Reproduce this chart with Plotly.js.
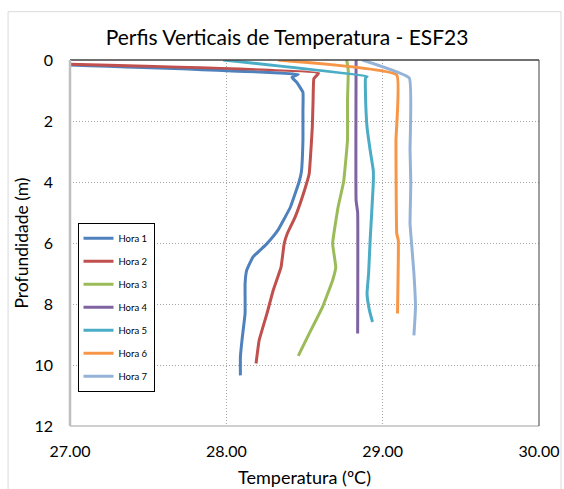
<!DOCTYPE html>
<html>
<head>
<meta charset="utf-8">
<script src="https://cdn.plot.ly/plotly-3.0.1.min.js"></script>
<style>html,body{margin:0;padding:0;background:#fff;}#chart{width:564px;height:489px;}</style>
</head>
<body>
<div id="chart"></div>
<script>
// Series names
const seriesNames = ["Hora 1", "Hora 2", "Hora 3", "Hora 4", "Hora 5", "Hora 6", "Hora 7"];

// Depth (m) and temperature (ºC) per series
const depth1 = [0, 0.47, 0.57, 0.73, 1.06, 1.65, 2.63, 3.67, 4.0, 4.82, 5.58, 6.02, 6.46, 6.9, 7.33, 8.31, 9.19, 9.74, 10.34];
const temp1  = [26.0, 28.46, 28.42, 28.45, 28.49, 28.49, 28.49, 28.48, 28.465, 28.41, 28.33, 28.26, 28.17, 28.13, 28.12, 28.12, 28.10, 28.09, 28.09];

const depth2 = [0, 0.43, 0.61, 1.32, 2.2, 2.63, 3.73, 4.27, 5.15, 5.69, 6.02, 6.79, 7.55, 8.31, 9.19, 9.95];
const temp2  = [25.8, 28.59, 28.56, 28.555, 28.55, 28.545, 28.53, 28.50, 28.44, 28.39, 28.37, 28.35, 28.30, 28.26, 28.21, 28.19];

const depth3 = [0, 0.34, 1.32, 2.63, 4.0, 4.82, 6.02, 6.79, 7.22, 8.1, 8.97, 9.7];
const temp3  = [28.77, 28.78, 28.775, 28.775, 28.75, 28.715, 28.68, 28.70, 28.68, 28.615, 28.53, 28.46];

const depth4 = [0, 4.6, 5.0, 8.97];
const temp4  = [28.83, 28.83, 28.84, 28.84];

const depth5 = [0, 0.54, 0.59, 1.1, 2.2, 2.96, 3.62, 4.05, 5.9, 7.0, 7.66, 8.2, 8.59];
const temp5  = [27.98, 28.90, 28.89, 28.89, 28.90, 28.92, 28.94, 28.94, 28.92, 28.91, 28.90, 28.915, 28.935];

const depth6 = [0, 0.49, 2.63, 5.69, 5.91, 8.31];
const temp6  = [28.33, 29.09, 29.085, 29.09, 29.10, 29.095];

const depth7 = [0, 0.59, 2.96, 4.05, 5.36, 6.02, 7.0, 8.1, 9.03];
const temp7  = [28.87, 29.17, 29.175, 29.18, 29.175, 29.185, 29.20, 29.21, 29.20];

// Axis ticks
const xTicks = [27, 28, 29, 30];
const yTicks = [0, 2, 4, 6, 8, 10, 12];

const colors = ["#4F81BD", "#C0504D", "#9BBB59", "#8064A2", "#4BACC6", "#F79646", "#95B3D7"];
const temps = [temp1, temp2, temp3, temp4, temp5, temp6, temp7];
const depths = [depth1, depth2, depth3, depth4, depth5, depth6, depth7];

const FONT = "Lato, 'Open Sans', sans-serif";

const traces = seriesNames.map((name, i) => ({
  type: "scatter",
  mode: "lines",
  name: name,
  legendgroup: "g" + i,
  x: temps[i],
  y: depths[i],
  line: {color: colors[i], width: 3, shape: "spline", smoothing: 0.3},
  cliponaxis: true
}));

const layout = {
  width: 564,
  height: 489,
  margin: {l: 70, r: 25, t: 60, b: 63},
  paper_bgcolor: "#ffffff",
  plot_bgcolor: "#ffffff",
  font: {family: FONT, color: "#000000", size: 16},
  showlegend: true,
  title: {
    text: "Perfis Verticais de Temperatura - ESF23",
    font: {family: FONT, size: 21, color: "#000000"},
    xref: "container", x: 0.509, xanchor: "center",
    yref: "container", y: 0.922, yanchor: "middle"
  },
  xaxis: {
    range: [27, 30],
    tickvals: xTicks,
    ticktext: xTicks.map(v => v.toFixed(2)),
    showgrid: true,
    gridcolor: "#a6a6a6",
    griddash: "1px,2px",
    gridwidth: 1,
    zeroline: false,
    showline: false,
    ticks: "",
    ticklabelstandoff: 14,
    tickfont: {family: FONT, size: 16, color: "#000"},
    title: {text: "Temperatura (ºC)", font: {family: FONT, size: 18, color: "#000"}, standoff: 12}
  },
  yaxis: {
    range: [12, 0],
    tickvals: yTicks,
    showgrid: true,
    gridcolor: "#a6a6a6",
    griddash: "1px,2px",
    gridwidth: 1,
    zeroline: false,
    showline: false,
    ticks: "",
    ticklabelstandoff: 16,
    tickfont: {family: FONT, size: 16, color: "#000"},
    title: {text: "Profundidade (m)", font: {family: FONT, size: 17.5, color: "#000"}, standoff: 1}
  },
  legend: {
    x: 0.016, y: 0.555, xanchor: "left", yanchor: "top",
    bgcolor: "#ffffff",
    bordercolor: "#000000",
    borderwidth: 1,
    traceorder: "grouped",
    tracegroupgap: 4,
    font: {family: FONT, size: 9.5, color: "#000"}
  },
  shapes: [
    // outer chart frame
    {type: "rect", xref: "paper", yref: "paper", x0: -0.132, x1: 1.047, y0: -0.2, y1: 1.132,
     line: {color: "#d9d9d9", width: 1}, layer: "below"},
    // plot area edges
    {type: "line", xref: "paper", yref: "paper", x0: 0, x1: 1, y0: 1, y1: 1, line: {color: "#404040", width: 1.5}},
    {type: "line", xref: "paper", yref: "paper", x0: 0, x1: 0, y0: 0, y1: 1, line: {color: "#bfbfbf", width: 2.5}},
    {type: "line", xref: "paper", yref: "paper", x0: 0, x1: 1, y0: 0, y1: 0, line: {color: "#bfbfbf", width: 1.5}},
    {type: "line", xref: "paper", yref: "paper", x0: 1, x1: 1, y0: 0, y1: 1, line: {color: "#404040", width: 1}}
  ]
};

Plotly.newPlot("chart", traces, layout, {staticPlot: true, displayModeBar: false});
</script>
</body>
</html>
